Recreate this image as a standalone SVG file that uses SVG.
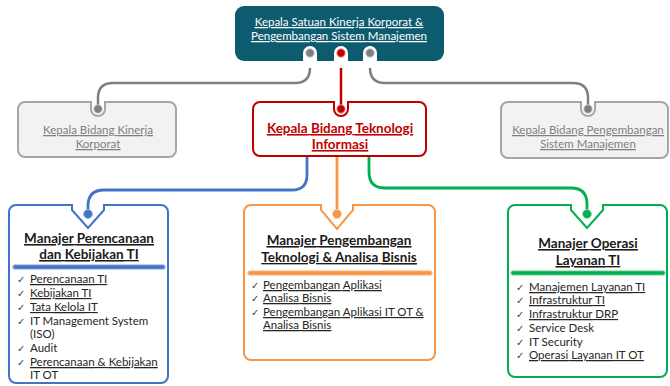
<svg xmlns="http://www.w3.org/2000/svg" width="670" height="386" viewBox="0 0 670 386">
  <style>
    text { font-family: Lato, "Noto Sans", "DejaVu Sans", sans-serif; }
    .u { text-decoration: underline; }
    .sq { text-decoration-line: underline; text-decoration-style: wavy; text-decoration-color: #e53935; text-underline-offset: 3px; text-decoration-skip-ink: none; }
    .top { font-size: 11.5px; fill: #ffffff; text-anchor: middle; }
    .grey { font-size: 11.5px; fill: #7f7f7f; text-anchor: middle; }
    .red { font-size: 13.5px; font-weight: bold; fill: #c00000; text-anchor: middle; }
    .title { font-size: 13.5px; font-weight: bold; fill: #1a1a1a; text-anchor: middle; }
    .item { font-size: 11.5px; fill: #262626; }
    .chk { font-size: 10px; fill: #404040; font-family: "DejaVu Sans", sans-serif; }
    .conn { fill: none; stroke-linecap: round; stroke-linejoin: round; }
  </style>

  <!-- connectors -->
  <g id="connectors">
    <path class="conn" d="M310,53 V68 Q310,83 295,83 H113 Q98,83 98,98 V109" stroke="#7f7f7f" stroke-width="2.5"/>
    <path class="conn" d="M370,53 V68 Q370,83 385,83 H573 Q588,83 588,98 V109" stroke="#7f7f7f" stroke-width="2.5"/>
    <path class="conn" d="M341,53 V109" stroke="#c00000" stroke-width="2.5"/>
    <path class="conn" d="M307,157 V175 Q307,190 292,190 H104 Q88,190 88,206 V214" stroke="#4472c4" stroke-width="2.8"/>
    <path class="conn" d="M337,157 V214" stroke="#f79646" stroke-width="2.8"/>
    <path class="conn" d="M369,157 V172 Q369,188 385,188 H571 Q587,188 587,204 V214" stroke="#00b050" stroke-width="2.8"/>
  </g>

  <!-- head of unit -->
  <g id="head">
    <rect x="235" y="6" width="209" height="55" rx="9" fill="#0d5b6f"/>
    <rect x="303" y="46" width="14" height="22" rx="7" fill="#ffffff"/>
    <rect x="334" y="46" width="14" height="22" rx="7" fill="#ffffff"/>
    <rect x="363" y="46" width="14" height="22" rx="7" fill="#ffffff"/>
    <circle cx="310" cy="53" r="4.2" fill="#7f7f7f" stroke="#c8c8c8" stroke-width="1"/>
    <circle cx="341" cy="53" r="4.2" fill="#c00000" stroke="#e8a0a0" stroke-width="1"/>
    <circle cx="370" cy="53" r="4.2" fill="#7f7f7f" stroke="#c8c8c8" stroke-width="1"/>
    <text class="top u" x="339" y="26"><tspan class="sq">Kepala</tspan> <tspan class="sq">Satuan</tspan> <tspan class="sq">Kinerja</tspan> <tspan class="sq">Korporat</tspan> &amp;</text>
    <text class="top u" x="339" y="40"><tspan class="sq">Pengembangan</tspan> <tspan class="sq">Sistem</tspan> <tspan class="sq">Manajemen</tspan></text>
  </g>

  <!-- second level -->
  <g id="bidang-kinerja">
    <path d="M25,102 H91 V109 A7,7 0 0 0 105,109 V102 H169 A7,7 0 0 1 176,109 V150 A7,7 0 0 1 169,157 H25 A7,7 0 0 1 18,150 V109 A7,7 0 0 1 25,102 Z" fill="#f2f2f2" stroke="#a6a6a6" stroke-width="2"/>
    <circle cx="98" cy="109" r="4.2" fill="#7f7f7f" stroke="#c8c8c8" stroke-width="1"/>
    <text class="grey u" x="98" y="134"><tspan class="sq">Kepala</tspan> <tspan class="sq">Bidang</tspan> <tspan class="sq">Kinerja</tspan></text>
    <text class="grey u" x="98" y="148"><tspan class="sq">Korporat</tspan></text>
  </g>

  <g id="bidang-ti">
    <path d="M260,102 H334 V109 A7,7 0 0 0 348,109 V102 H419 A7,7 0 0 1 426,109 V149 A7,7 0 0 1 419,156 H260 A7,7 0 0 1 253,149 V109 A7,7 0 0 1 260,102 Z" fill="#ffffff" stroke="#c00000" stroke-width="2"/>
    <circle cx="341" cy="109" r="4.2" fill="#c00000" stroke="#e8a0a0" stroke-width="1"/>
    <text class="red u" x="340" y="133"><tspan class="sq">Kepala</tspan> <tspan class="sq">Bidang</tspan> <tspan class="sq">Teknologi</tspan></text>
    <text class="red u" x="340" y="149"><tspan class="sq">Informasi</tspan></text>
  </g>

  <g id="bidang-psm">
    <path d="M508,102 H581 V109 A7,7 0 0 0 595,109 V102 H661 A7,7 0 0 1 668,109 V151 A7,7 0 0 1 661,158 H508 A7,7 0 0 1 501,151 V109 A7,7 0 0 1 508,102 Z" fill="#f2f2f2" stroke="#a6a6a6" stroke-width="2"/>
    <circle cx="588" cy="109" r="4.2" fill="#7f7f7f" stroke="#c8c8c8" stroke-width="1"/>
    <text class="grey u" x="588" y="134"><tspan class="sq">Kepala</tspan> <tspan class="sq">Bidang</tspan> <tspan class="sq">Pengembangan</tspan></text>
    <text class="grey u" x="588" y="148"><tspan class="sq">Sistem</tspan> <tspan class="sq">Manajemen</tspan></text>
  </g>

  <!-- managers -->
  <g id="manajer-perencanaan">
    <path d="M16,205 H72 V210 L88,228 L104,210 V205 H161 A7,7 0 0 1 168,212 V376 A7,7 0 0 1 161,383 H16 A7,7 0 0 1 9,376 V212 A7,7 0 0 1 16,205 Z" fill="#ffffff" stroke="#4472c4" stroke-width="2"/>
    <circle cx="88" cy="214" r="4.5" fill="#4472c4" stroke="#a9bfe6" stroke-width="1"/>
    <text class="title u" x="89" y="243"><tspan class="sq">Manajer</tspan> <tspan class="sq">Perencanaan</tspan></text>
    <text class="title u" x="89" y="259"><tspan class="sq">dan</tspan> <tspan class="sq">Kebijakan</tspan> TI</text>
    <line x1="15" y1="267" x2="163" y2="267" stroke="#a9bfe6" stroke-width="5.5" stroke-linecap="round"/>
    <line x1="15" y1="267" x2="163" y2="267" stroke="#4472c4" stroke-width="3.5" stroke-linecap="round"/>
    <text class="chk" x="17" y="283">✓</text><text class="item u" x="30" y="283"><tspan class="sq">Perencanaan</tspan> TI</text>
    <text class="chk" x="17" y="297">✓</text><text class="item u" x="30" y="297"><tspan class="sq">Kebijakan</tspan> TI</text>
    <text class="chk" x="17" y="311">✓</text><text class="item u" x="30" y="311">Tata <tspan class="sq">Kelola</tspan> IT</text>
    <text class="chk" x="17" y="325">✓</text><text class="item" x="30" y="325">IT Management System</text>
    <text class="item" x="30" y="338">(ISO)</text>
    <text class="chk" x="17" y="352">✓</text><text class="item" x="30" y="352">Audit</text>
    <text class="chk" x="17" y="366">✓</text><text class="item u" x="30" y="366"><tspan class="sq">Perencanaan</tspan> &amp; <tspan class="sq">Kebijakan</tspan></text>
    <text class="item" x="30" y="379">IT OT</text>
  </g>

  <g id="manajer-pengembangan">
    <path d="M251,205 H321 V210 L337,229 L353,210 V205 H428 A7,7 0 0 1 435,212 V353 A7,7 0 0 1 428,360 H251 A7,7 0 0 1 244,353 V212 A7,7 0 0 1 251,205 Z" fill="#ffffff" stroke="#f79646" stroke-width="2"/>
    <circle cx="337" cy="214" r="4.5" fill="#f79646" stroke="#fbcaa0" stroke-width="1"/>
    <text class="title u" x="339" y="245"><tspan class="sq">Manajer</tspan> <tspan class="sq">Pengembangan</tspan></text>
    <text class="title u" x="339" y="262">Teknologi &amp; Analisa <tspan class="sq">Bisnis</tspan></text>
    <line x1="250" y1="273" x2="430" y2="273" stroke="#fbcaa0" stroke-width="5.5" stroke-linecap="round"/>
    <line x1="250" y1="273" x2="430" y2="273" stroke="#f79646" stroke-width="3.5" stroke-linecap="round"/>
    <text class="chk" x="251" y="289">✓</text><text class="item u" x="263" y="289"><tspan class="sq">Pengembangan</tspan> <tspan class="sq">Aplikasi</tspan></text>
    <text class="chk" x="251" y="302">✓</text><text class="item u" x="263" y="302"><tspan class="sq">Analisa</tspan> <tspan class="sq">Bisnis</tspan></text>
    <text class="chk" x="251" y="316">✓</text><text class="item u" x="263" y="316"><tspan class="sq">Pengembangan</tspan> <tspan class="sq">Aplikasi</tspan> IT OT &amp;</text>
    <text class="item u" x="263" y="329"><tspan class="sq">Analisa</tspan> <tspan class="sq">Bisnis</tspan></text>
  </g>

  <g id="manajer-operasi">
    <path d="M515,205 H571 V210 L587,228 L603,210 V205 H660 A7,7 0 0 1 667,212 V370 A7,7 0 0 1 660,377 H515 A7,7 0 0 1 508,370 V212 A7,7 0 0 1 515,205 Z" fill="#ffffff" stroke="#00b050" stroke-width="2"/>
    <circle cx="587" cy="214" r="4.5" fill="#00b050" stroke="#9fe0bc" stroke-width="1"/>
    <text class="title u" x="588" y="248"><tspan class="sq">Manajer</tspan> <tspan class="sq">Operasi</tspan></text>
    <text class="title u" x="588" y="265"><tspan class="sq">Layanan</tspan> TI</text>
    <line x1="513" y1="273" x2="663" y2="273" stroke="#9fe0bc" stroke-width="5.5" stroke-linecap="round"/>
    <line x1="513" y1="273" x2="663" y2="273" stroke="#00b050" stroke-width="3.5" stroke-linecap="round"/>
    <text class="chk" x="516" y="291">✓</text><text class="item u" x="529" y="291"><tspan class="sq">Manajemen</tspan> <tspan class="sq">Layanan</tspan> TI</text>
    <text class="chk" x="516" y="304">✓</text><text class="item u" x="529" y="304"><tspan class="sq">Infrastruktur</tspan> TI</text>
    <text class="chk" x="516" y="318">✓</text><text class="item u" x="529" y="318"><tspan class="sq">Infrastruktur</tspan> DRP</text>
    <text class="chk" x="516" y="332">✓</text><text class="item" x="529" y="332">Service Desk</text>
    <text class="chk" x="516" y="346">✓</text><text class="item" x="529" y="346">IT Security</text>
    <text class="chk" x="516" y="359">✓</text><text class="item u" x="529" y="359"><tspan class="sq">Operasi</tspan> <tspan class="sq">Layanan</tspan> IT OT</text>
  </g>
</svg>
